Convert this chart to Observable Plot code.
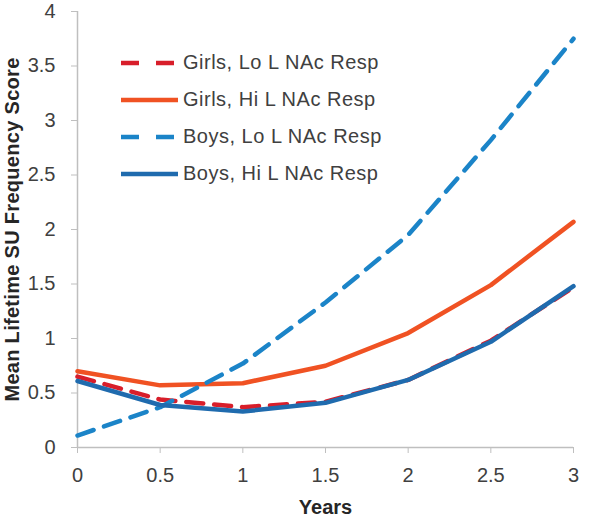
<!DOCTYPE html>
<html>
<head>
<meta charset="utf-8">
<script src="https://cdn.jsdelivr.net/npm/d3@7"></script>
<script src="https://cdn.jsdelivr.net/npm/@observablehq/plot@0.6"></script>
<style>
  html, body { margin: 0; padding: 0; background: #fff; }
  #wrap { position: relative; width: 600px; height: 516px; font-family: "Liberation Sans", Arial, sans-serif; }
  #wrap svg g[aria-label="x-axis label"] text,
  #wrap svg g[aria-label="y-axis label"] text { font-weight: bold; fill: #262626; }
  #wrap svg g[aria-label="y-axis label"] text { letter-spacing: 0.3px; }
  #legend { position: absolute; left: 121px; top: 44px; }
  .item { display: flex; align-items: center; height: 37px; }
  .item span { font-size: 20px; color: #404040; letter-spacing: 0.5px; margin-left: 5px; white-space: nowrap; }
</style>
</head>
<body>
<div id="wrap"></div>
<script>
const years = [0, 0.5, 1, 1.5, 2, 2.5, 3];
const xTicks = [0, 0.5, 1, 1.5, 2, 2.5, 3];
const yTicks = [0, 0.5, 1, 1.5, 2, 2.5, 3, 3.5, 4];

const seriesNames = ["Girls, Lo L NAc Resp", "Girls, Hi L NAc Resp", "Boys, Lo L NAc Resp", "Boys, Hi L NAc Resp"];
const girlsLo = [0.65, 0.44, 0.37, 0.42, 0.62, 0.98, 1.47];
const girlsHi = [0.70, 0.57, 0.59, 0.75, 1.05, 1.49, 2.07];
const boysLo  = [0.11, 0.37, 0.77, 1.33, 1.95, 2.82, 3.75];
const boysHi  = [0.61, 0.39, 0.33, 0.41, 0.62, 0.97, 1.48];

const seriesColors = ["#D81E2A", "#F05223", "#1B84C8", "#1F6BAE"];
const seriesDashed = [true, false, true, false];

const values = [girlsLo, girlsHi, boysLo, boysHi];
const data = seriesNames.flatMap((name, i) => years.map((x, j) => ({series: name, x, y: values[i][j]})));

const lineMarks = seriesNames.map((name, i) =>
  Plot.line(data.filter(d => d.series === name), {
    x: "x", y: "y",
    stroke: seriesColors[i],
    strokeWidth: 4.5,
    strokeDasharray: seriesDashed[i] ? "17,11" : null,
    strokeLinejoin: "round"
  })
);

const chart = Plot.plot({
  width: 600,
  height: 516,
  marginLeft: 77,
  marginRight: 27,
  marginTop: 11,
  marginBottom: 69,
  style: { fontFamily: "'Liberation Sans', Arial, sans-serif", fontSize: "20px", background: "white", color: "#404040" },
  x: { domain: [0, 3] },
  y: { domain: [0, 4] },
  marks: [
    Plot.ruleY([0], { stroke: "#bfbfbf", strokeWidth: 1.5 }),
    Plot.ruleX([0], { stroke: "#bfbfbf", strokeWidth: 1.5 }),
    Plot.axisX({
      ticks: xTicks, tickSize: 6, tickPadding: 14, stroke: "#bfbfbf", fill: "#404040",
      tickFormat: d => String(d),
      label: "Years", labelAnchor: "center", labelOffset: 66, labelArrow: "none"
    }),
    Plot.axisY({
      ticks: yTicks, tickSize: 6, tickPadding: 16, stroke: "#bfbfbf", fill: "#404040",
      tickFormat: d => String(d),
      label: "Mean Lifetime SU Frequency Score", labelAnchor: "center", labelOffset: 73, labelArrow: "none"
    }),
    ...lineMarks
  ]
});

const wrap = document.getElementById("wrap");
wrap.appendChild(chart);

// Legend (inside plot area, as in the reference)
const legend = document.createElement("div");
legend.id = "legend";
seriesNames.forEach((name, i) => {
  const item = document.createElement("div");
  item.className = "item";
  const dash = seriesDashed[i] ? ' stroke-dasharray="18,17"' : '';
  item.innerHTML = `<svg width="57" height="10"><line x1="0" y1="5" x2="57" y2="5" stroke="${seriesColors[i]}" stroke-width="4.5"${dash}/></svg><span>${name}</span>`;
  legend.appendChild(item);
});
wrap.appendChild(legend);
</script>
</body>
</html>
